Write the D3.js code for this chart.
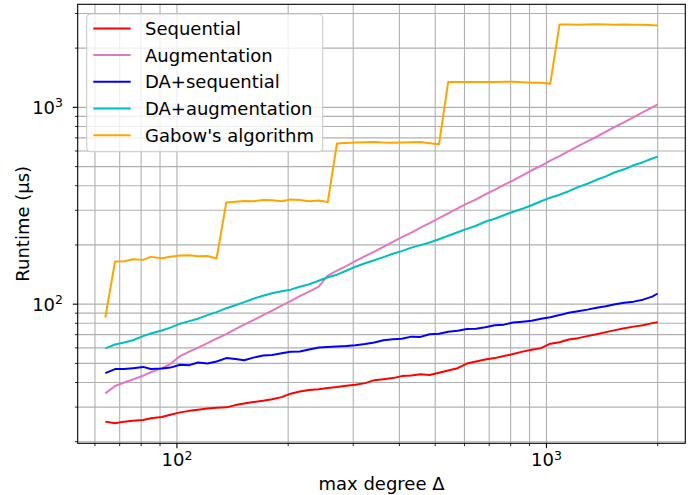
<!DOCTYPE html>
<html>
<head>
<meta charset="utf-8">
<script src="https://cdn.jsdelivr.net/npm/d3@7"></script>
<style>
  body { margin: 0; background: #fff; }
  text { font-family: "DejaVu Sans", sans-serif; fill: #000; }
</style>
</head>
<body>
<div id="wrapper"></div>
<script>
// max degree values (x)
const degrees = [64,68,72,76,81,85,91,96,102,108,114,121,128,136,144,152,161,171,181,192,203,215,228,242,256,271,287,304,323,342,362,384,406,431,456,483,512,542,575,609,645,683,724,767,813,861,912,967,1024,1085,1149,1218,1290,1367,1448,1534,1625,1722,1825,1933,2000];

// runtimes in µs, one array per algorithm
const sequential = [25.3,24.8,25.3,25.6,25.8,26.3,26.7,27.4,28.2,28.7,29.1,29.5,29.8,29.9,30.7,31.3,31.8,32.3,32.9,33.7,35.1,36.0,36.6,37.0,37.5,37.9,38.5,39.0,39.7,41.1,41.6,42.1,43.1,43.4,44.1,43.7,44.8,46.0,47.3,49.9,51.1,52.3,53.2,54.5,55.8,57.4,58.7,59.8,63.0,64.1,66.1,67.2,68.8,70.4,72.1,73.8,75.5,76.9,78.2,80.1,81.0];
const augmentation = [35.2,38.4,40.0,41.4,43.3,45.1,47.3,49.6,54.5,57.4,60.1,63.4,66.8,70.4,74.7,78.7,82.9,87.9,92.7,98.3,103.6,109.8,115.7,122.7,139.5,147.9,156.0,165.3,175.3,184.8,195.4,207,219,231,245,258.3,274,289.5,306.5,324,341,361.7,381,404,426,451,479,505,536,565,599,635,672,709,752,797,841,892,946,1000,1036];
const daSequential = [44.6,46.8,46.8,47.3,48.0,46.8,47.1,47.6,49.2,49.0,50.5,50.0,51.1,53.2,52.6,51.9,53.5,54.9,55.2,56.3,57.3,57.5,58.8,60.2,60.6,61.0,61.3,61.8,62.7,63.9,65.6,66.4,66.8,68.4,68.2,70.4,70.8,72.5,73.2,74.8,75.1,76.4,78.2,78.7,80.7,81.5,82.3,84.4,85.9,88.0,90.5,92.1,93.8,96.0,97.7,100,101.8,103,105.4,109.2,113.3];
const daAugmentation = [59.6,62.4,63.9,65.6,68.8,70.9,73.5,76.0,79.6,82.0,84.4,88.0,91.1,95.4,98.8,102.4,106.6,110.4,113.7,116.4,118.5,122.7,126.3,131.6,137.1,141.2,147.9,155,161.4,167.3,173.3,180.5,186,193.8,199.6,205.6,213.8,222.5,231.8,241.4,250.2,262.3,271.8,283,295,305.2,318,333.3,347.6,359.6,375,393,409,428.5,446,468,484.5,508,526.5,550,562];
const gabow = [85.6,164.8,165.3,169.2,167.9,173.9,171.2,174.3,176.7,177.4,175.3,175.8,170.6,328.2,331.3,334.5,333.3,338.4,337.2,333.3,340.0,338.4,333.3,336.0,330.5,654.3,658.2,662.1,664.4,666.7,662.1,660.5,662,664,666.7,658,649,1344,1344,1347,1344,1344,1347,1350,1350,1341,1335,1332,1319,2638,2638,2632,2638,2644,2638,2632,2638,2629,2625,2614,2607];

const seriesNames = ["Sequential", "Augmentation", "DA+sequential", "DA+augmentation", "Gabow's algorithm"];
const seriesColors = ["#ff0000", "#e377c2", "#0000ff", "#00bfbf", "#ffa500"];
const seriesValues = [sequential, augmentation, daSequential, daAugmentation, gabow];

const width = 694, height = 495;
const plot = {left: 77.7, right: 685.3, top: 4.3, bottom: 443.3};

// matplotlib style 5% margins on log axes
const logPad = (lo, hi) => {
  const a = Math.log10(lo), b = Math.log10(hi), m = (b - a) * 0.05;
  return [Math.pow(10, a - m), Math.pow(10, b + m)];
};
const allY = seriesValues.flat();

const x = d3.scaleLog()
  .domain(logPad(d3.min(degrees), d3.max(degrees)))
  .range([plot.left, plot.right]);
const y = d3.scaleLog()
  .domain(logPad(d3.min(allY), d3.max(allY)))
  .range([plot.bottom, plot.top]);

const svg = d3.select("#wrapper").append("svg")
  .attr("width", width)
  .attr("height", height);

const isMajor = v => Math.abs(Math.log10(v) - Math.round(Math.log10(v))) < 1e-9;
const xTicks = x.ticks();
const yTicks = y.ticks();

// grid, major and minor
const grid = svg.append("g").attr("stroke", "#b0b0b0").attr("stroke-width", 1.1);
grid.selectAll(".gx").data(xTicks).join("line")
  .attr("x1", d => x(d)).attr("x2", d => x(d))
  .attr("y1", plot.top).attr("y2", plot.bottom);
grid.selectAll(".gy").data(yTicks).join("line")
  .attr("x1", plot.left).attr("x2", plot.right)
  .attr("y1", d => y(d)).attr("y2", d => y(d));

// series lines
const line = d3.line()
  .x((d, i) => x(degrees[i]))
  .y(d => y(d));

svg.append("g").selectAll("path")
  .data(seriesValues)
  .join("path")
  .attr("fill", "none")
  .attr("stroke", (d, i) => seriesColors[i])
  .attr("stroke-width", 2)
  .attr("stroke-linejoin", "round")
  .attr("d", line);

// ticks
const ticks = svg.append("g").attr("stroke", "#000");
ticks.selectAll(".tx").data(xTicks).join("line")
  .attr("x1", d => x(d)).attr("x2", d => x(d))
  .attr("y1", plot.bottom).attr("y2", d => plot.bottom + (isMajor(d) ? 4.9 : 2.8))
  .attr("stroke-width", d => isMajor(d) ? 1.1 : 0.85);
ticks.selectAll(".ty").data(yTicks).join("line")
  .attr("y1", d => y(d)).attr("y2", d => y(d))
  .attr("x1", plot.left).attr("x2", d => plot.left - (isMajor(d) ? 4.9 : 2.8))
  .attr("stroke-width", d => isMajor(d) ? 1.1 : 0.85);

// spines
svg.append("rect")
  .attr("x", plot.left).attr("y", plot.top)
  .attr("width", plot.right - plot.left).attr("height", plot.bottom - plot.top)
  .attr("fill", "none").attr("stroke", "#000").attr("stroke-width", 1.1);

// tick labels as 10^n
function powLabel(sel) {
  sel.append("tspan").text("10");
  sel.append("tspan")
    .attr("dy", -6.7)
    .attr("font-size", 12.5)
    .text(d => Math.round(Math.log10(d)));
}
svg.selectAll(".xl").data(xTicks.filter(isMajor)).join("text")
  .attr("x", d => x(d))
  .attr("y", plot.bottom + 23)
  .attr("text-anchor", "middle")
  .attr("font-size", 18)
  .call(powLabel);
svg.selectAll(".yl").data(yTicks.filter(isMajor)).join("text")
  .attr("x", 63)
  .attr("y", d => y(d) + 6.8)
  .attr("text-anchor", "end")
  .attr("font-size", 18)
  .call(powLabel);

// axis titles
svg.append("text")
  .attr("x", (plot.left + plot.right) / 2)
  .attr("y", 490)
  .attr("text-anchor", "middle")
  .attr("font-size", 18)
  .text("max degree Δ");
svg.append("text")
  .attr("transform", `translate(29.3,${(plot.top + plot.bottom) / 2}) rotate(-90)`)
  .attr("text-anchor", "middle")
  .attr("font-size", 18)
  .text("Runtime (µs)");

// legend
const legend = svg.append("g").attr("transform", "translate(86.7,14)");
legend.append("rect")
  .attr("width", 236).attr("height", 137.7)
  .attr("rx", 4).attr("ry", 4)
  .attr("fill", "#fff").attr("fill-opacity", 0.8)
  .attr("stroke", "#cccccc").attr("stroke-width", 1.1);
const rows = legend.selectAll(".row").data(seriesNames).join("g")
  .attr("transform", (d, i) => `translate(0,${14.4 + i * 26.7})`);
rows.append("line")
  .attr("x1", 6.6).attr("x2", 44)
  .attr("stroke", (d, i) => seriesColors[i])
  .attr("stroke-width", 2);
rows.append("text")
  .attr("x", 58.3).attr("y", 6.5)
  .attr("font-size", 18)
  .text(d => d);
</script>
</body>
</html>
